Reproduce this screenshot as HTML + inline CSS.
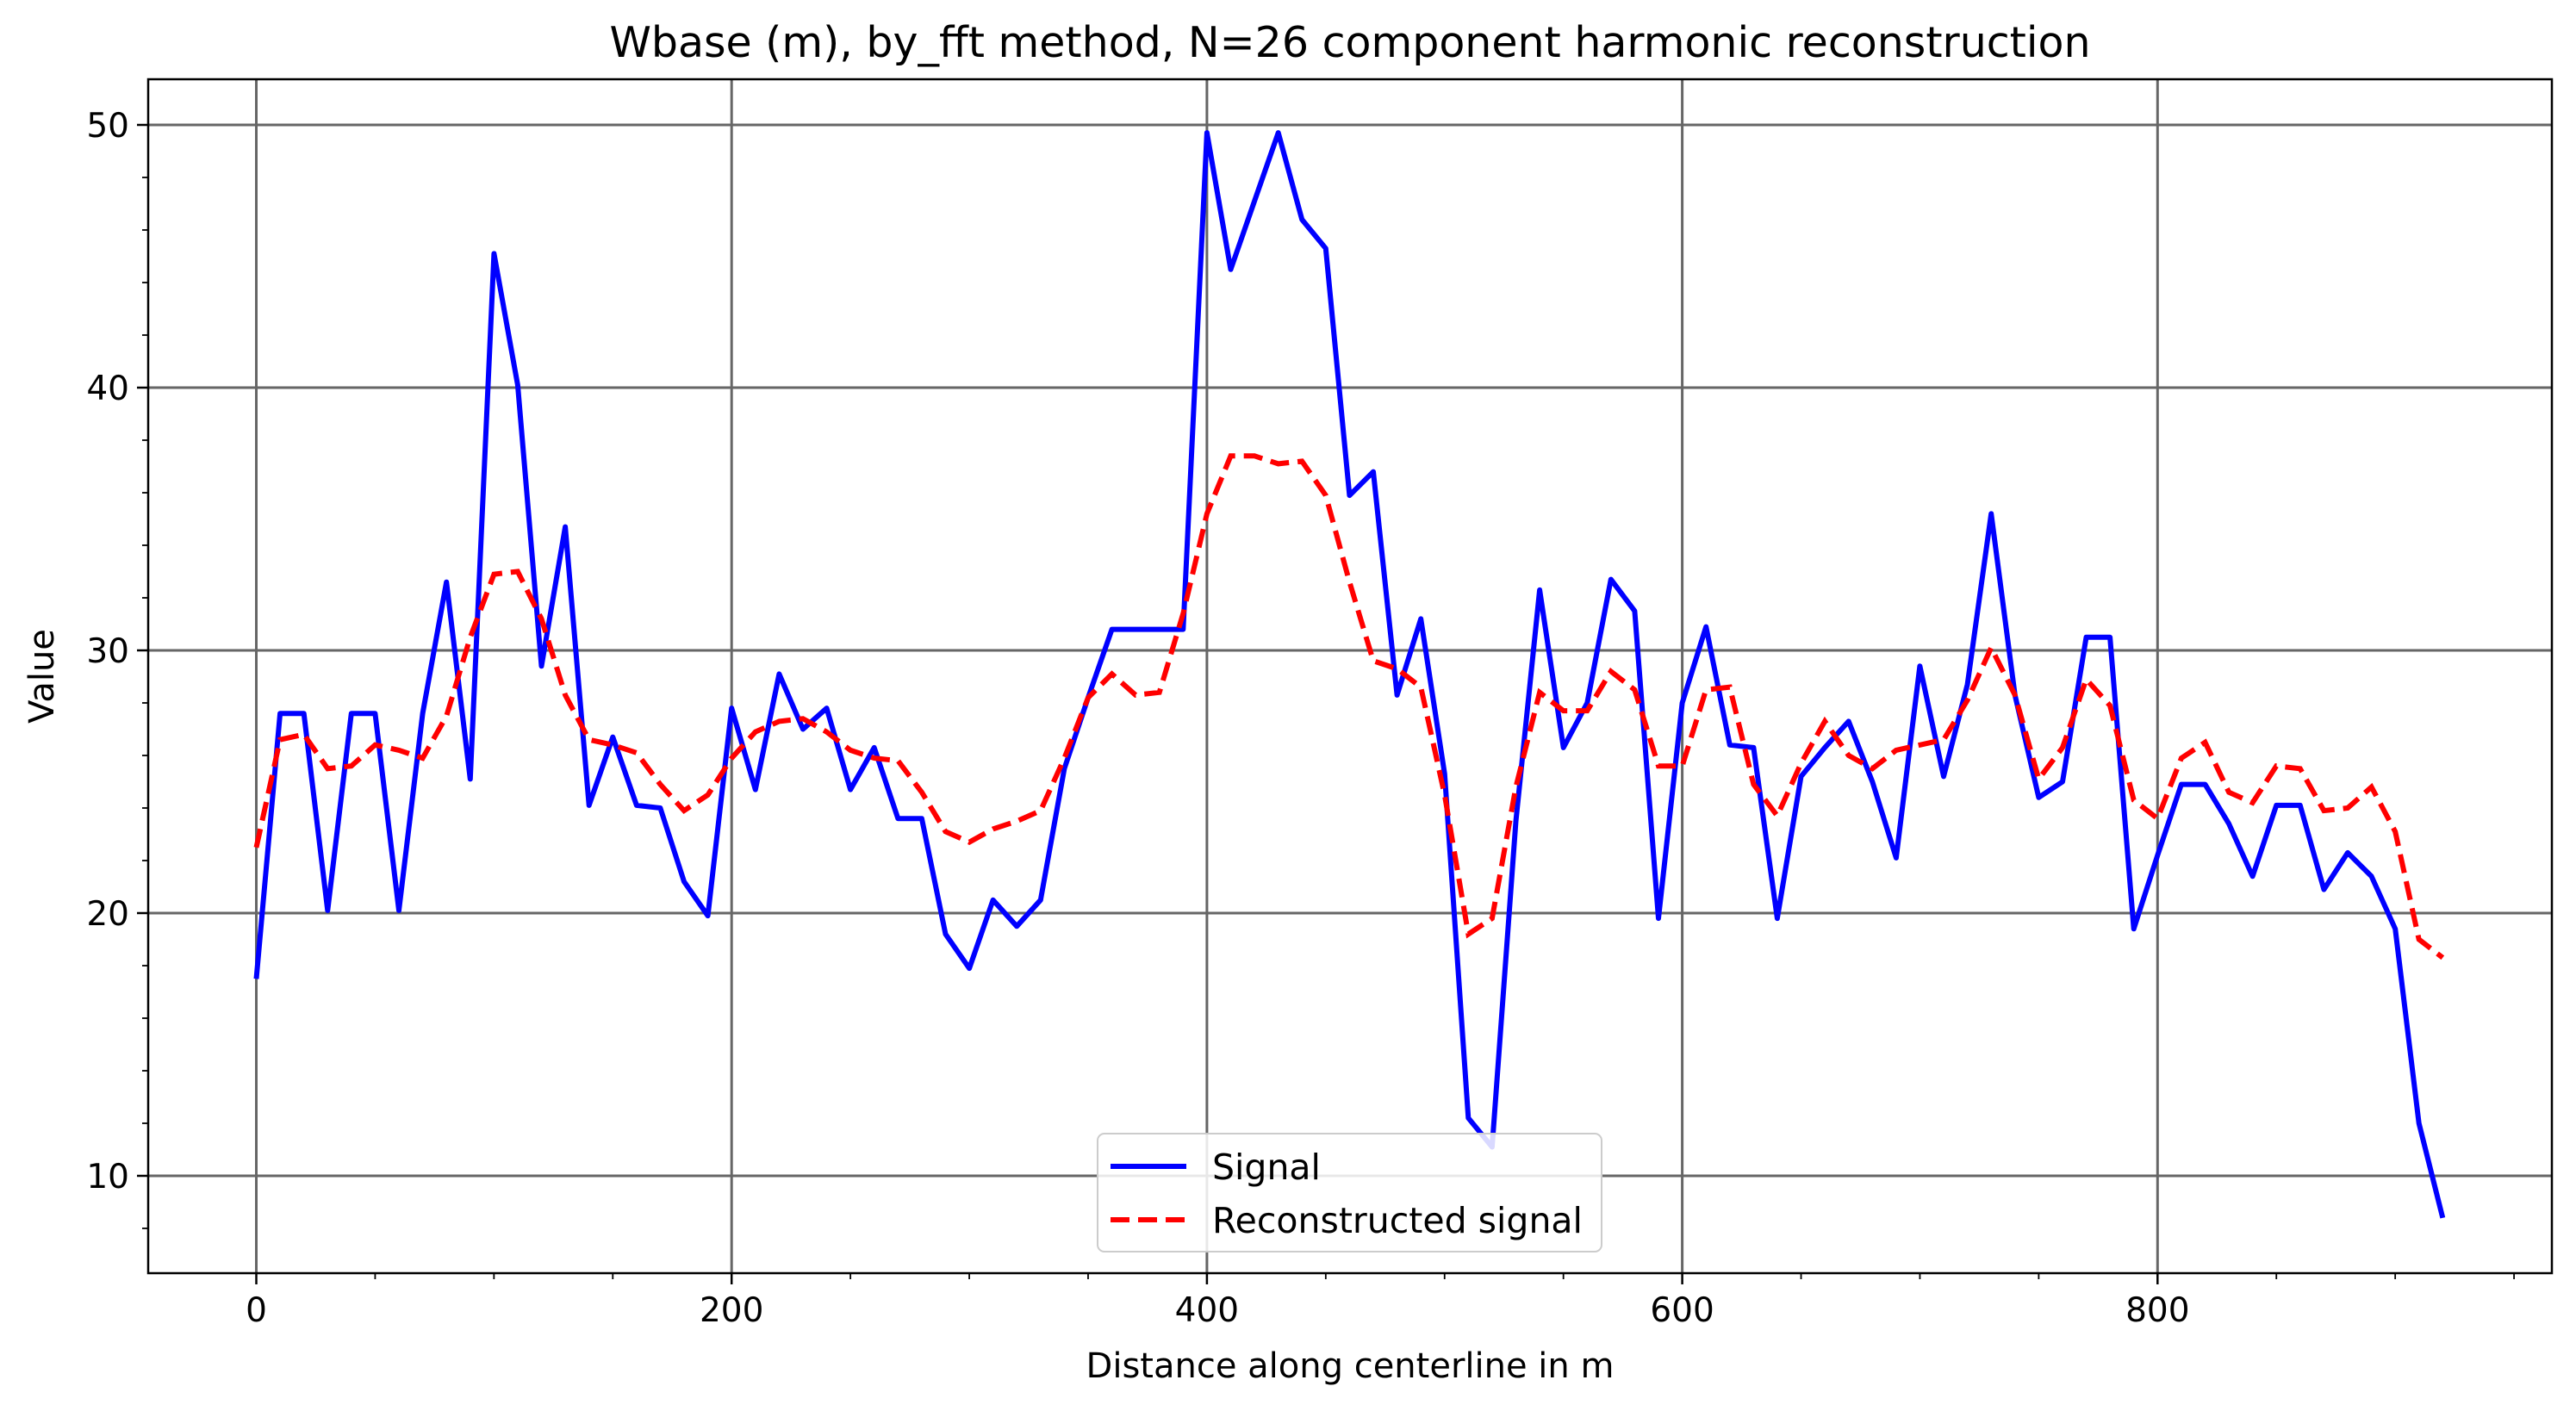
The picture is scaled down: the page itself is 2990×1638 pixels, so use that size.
<!DOCTYPE html>
<html><head><meta charset="utf-8">
<style>
html,body{margin:0;padding:0;background:#fff;}
svg{display:block;font-family:"DejaVu Sans","Liberation Sans",sans-serif;}
</style></head>
<body>
<svg id="chart" width="2990" height="1638" viewBox="0 0 2990 1638" xmlns="http://www.w3.org/2000/svg">
<rect width="2990" height="1638" fill="#fff"/>
<text x="1567" y="66" font-size="49" text-anchor="middle" fill="#000">Wbase (m), by_fft method, N=26 component harmonic reconstruction</text>
<g id="grid"></g>
<g id="ticks"></g>
<g id="series"></g>
<rect x="172" y="92" width="2790" height="1386" fill="none" stroke="#000" stroke-width="2.5"/>
<text x="1567" y="1599" font-size="40" text-anchor="middle">Distance along centerline in m</text>
<text transform="translate(62,785) rotate(-90)" font-size="40" text-anchor="middle">Value</text>
<g>
<rect x="1274" y="1316" width="585" height="137" rx="8" fill="#fff" fill-opacity="0.85" stroke="#ccc" stroke-width="2"/>
<line x1="1289" y1="1354" x2="1377" y2="1354" stroke="#0000ff" stroke-width="6"/>
<text x="1407" y="1369" font-size="41">Signal</text>
<line x1="1289" y1="1416" x2="1377" y2="1416" stroke="#ff0000" stroke-width="6" stroke-dasharray="22,10"/>
<text x="1407" y="1431" font-size="41">Reconstructed signal</text>
</g>
</svg>
<script>
const distances = [0,10,20,30,40,50,60,70,80,90,100,110,120,130,140,150,160,170,180,190,200,210,220,230,240,250,260,270,280,290,300,310,320,330,340,350,360,370,380,390,400,410,420,430,440,450,460,470,480,490,500,510,520,530,540,550,560,570,580,590,600,610,620,630,640,650,660,670,680,690,700,710,720,730,740,750,760,770,780,790,800,810,820,830,840,850,860,870,880,890,900,910,920];
const signalValues = [17.5,27.6,27.6,20.1,27.6,27.6,20.1,27.6,32.6,25.1,45.1,40.1,29.4,34.7,24.1,26.7,24.1,24.0,21.2,19.9,27.8,24.7,29.1,27.0,27.8,24.7,26.3,23.6,23.6,19.2,17.9,20.5,19.5,20.5,25.5,28.2,30.8,30.8,30.8,30.8,49.7,44.5,47.1,49.7,46.4,45.3,35.9,36.8,28.3,31.2,25.3,12.2,11.1,23.5,32.3,26.3,28.0,32.7,31.5,19.8,28.0,30.9,26.4,26.3,19.8,25.2,26.3,27.3,25.0,22.1,29.4,25.2,28.7,35.2,28.3,24.4,25.0,30.5,30.5,19.4,22.2,24.9,24.9,23.4,21.4,24.1,24.1,20.9,22.3,21.4,19.4,12.0,8.4];
const reconValues = [22.5,26.6,26.8,25.5,25.6,26.4,26.2,25.9,27.5,30.5,32.9,33.0,31.2,28.3,26.6,26.4,26.1,24.9,23.9,24.5,25.9,26.9,27.3,27.4,26.9,26.2,25.9,25.8,24.6,23.1,22.7,23.2,23.5,23.9,25.9,28.2,29.1,28.3,28.4,31.4,35.2,37.4,37.4,37.1,37.2,35.9,32.6,29.6,29.3,28.6,24.5,19.2,19.8,24.8,28.4,27.7,27.7,29.2,28.5,25.6,25.6,28.5,28.6,24.9,23.7,25.7,27.3,26.0,25.5,26.2,26.4,26.6,28.1,30.1,28.3,25.1,26.3,28.9,27.9,24.3,23.6,25.9,26.5,24.6,24.2,25.6,25.5,23.9,24.0,24.8,23.1,19.0,18.3];
const xTickLabels = [0,200,400,600,800];
const yTickLabels = [10,20,30,40,50];

const NS = "http://www.w3.org/2000/svg";
const L = 172, R = 2962, T = 92, B = 1478;
function xs(v){ return 297.5 + v * 2.7585; }
function ys(v){ return 145 + (50 - v) * 30.5; }
function mk(tag, attrs, parent){
  const e = document.createElementNS(NS, tag);
  for (const k in attrs) e.setAttribute(k, attrs[k]);
  parent.appendChild(e);
  return e;
}
const grid = document.getElementById('grid');
const ticks = document.getElementById('ticks');
const series = document.getElementById('series');

xTickLabels.forEach(v => {
  const g = mk('line', {x1:xs(v), x2:xs(v), y1:T, y2:B, stroke:'#666', 'stroke-width':3}, grid);
  
  
  const t = mk('line', {x1:xs(v), x2:xs(v), y1:B, y2:B+13, stroke:'#000', 'stroke-width':2.5}, ticks);
  
  
  const lb = mk('text', {x:xs(v), y:B+56, 'font-size':39, 'text-anchor':'middle'}, ticks);
  lb.textContent = v;
  
  
});
for (let v = -50; v <= 950; v += 50) {
  if (v % 200 === 0) continue;
  const x = xs(v);
  if (x < L || x > R) continue;
  const t = mk('line', {x1:x, x2:x, y1:B, y2:B+7, stroke:'#000', 'stroke-width':1.8}, ticks);
  
  
}
yTickLabels.forEach(v => {
  const g = mk('line', {x1:L, x2:R, y1:ys(v), y2:ys(v), stroke:'#666', 'stroke-width':3}, grid);
  
  
  const t = mk('line', {x1:L-13, x2:L, y1:ys(v), y2:ys(v), stroke:'#000', 'stroke-width':2.5}, ticks);
  
  
  const lb = mk('text', {x:L-22, y:ys(v)+14, 'font-size':39, 'text-anchor':'end'}, ticks);
  lb.textContent = v;
  
  
});
for (let v = 6; v <= 52; v += 2) {
  if (v % 10 === 0) continue;
  const y = ys(v);
  if (y < T || y > B) continue;
  const t = mk('line', {x1:L-7, x2:L, y1:y, y2:y, stroke:'#000', 'stroke-width':1.8}, ticks);
  
  
}
function pts(arr){ return arr.map((v,i)=>xs(distances[i]).toFixed(1)+','+ys(v).toFixed(1)).join(' '); }
const sig = mk('polyline', {points:pts(signalValues), fill:'none', stroke:'#0000ff', 'stroke-width':6, 'stroke-linejoin':'round'}, series);


const rec = mk('polyline', {points:pts(reconValues), fill:'none', stroke:'#ff0000', 'stroke-width':6, 'stroke-dasharray':'22,10'}, series);


</script>
</body></html>
